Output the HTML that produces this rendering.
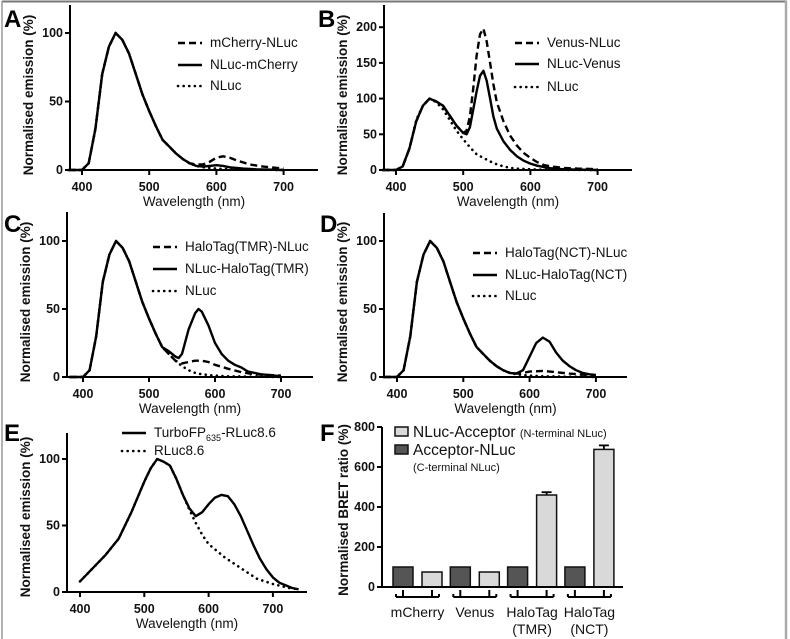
<!DOCTYPE html>
<html><head><meta charset="utf-8">
<style>
html,body{margin:0;padding:0;background:#fff;}
svg{display:block;font-family:"Liberation Sans",sans-serif;}
.tk{font-size:12.5px;font-weight:bold;fill:#111;}
.ttl{font-size:13.5px;fill:#111;}
.yt{font-size:13.5px;font-weight:bold;fill:#111;}
.cat{font-size:14px;fill:#111;}
.lg{font-size:13.5px;fill:#111;}
.pl{font-size:24px;font-weight:bold;fill:#000;}
</style></head>
<body>
<svg id="fig" width="790" height="639" viewBox="0 0 790 639">
  <rect x="0" y="0" width="790" height="639" fill="#fff"/>
  <line x1="2" y1="1.5" x2="787" y2="1.5" stroke="#777" stroke-width="2"/>
  <line x1="2" y1="1" x2="2" y2="639" stroke="#999" stroke-width="1.5"/>
  <line x1="786" y1="1" x2="786" y2="639" stroke="#aaa" stroke-width="2.5"/>
  <g id="plots"></g>
</svg>
<script>
// ---------- data ----------
const nlucWl   = [380,400,410,420,430,440,450,460,470,480,490,500,510,520,530,540,550,560,570,580,590,600,620,650,700];
const nlucVal  = [0,0,5,30,70,90,100,95,85,70,55,43,32,22,17,12,8,5,3,2,1.5,1,0.5,0.3,0];

const aDashWl  = [380,400,410,420,430,440,450,460,470,480,490,500,510,520,530,540,550,560,570,580,590,600,610,620,630,650,670,690,700];
const aDashVal = [0,0,5,30,70,90,100,95,85,70,55,43,32,22,17,12,8,5,4,4,6,9,10,9,7,4,2.5,1.5,1];
const aSolWl   = [380,400,410,420,430,440,450,460,470,480,490,500,510,520,530,540,550,560,570,580,590,600,610,620,640,660,700];
const aSolVal  = [0,0,5,30,70,90,100,95,85,70,55,43,32,22,17,12,8,5,3,2.5,3,3.5,3,2,1,0.5,0];

const bSolWl   = [380,400,410,420,430,440,450,460,470,480,490,500,505,510,515,520,525,530,535,540,545,550,560,570,580,590,600,610,620,630,650,700];
const bSolVal  = [0,0,5,30,68,90,100,96,90,76,62,52,50,60,85,110,132,139,125,100,75,58,40,28,19,13,9,6,4,2.5,1,0];
const bDashWl  = [380,400,410,420,430,440,450,460,470,480,490,500,505,510,515,520,525,530,535,540,545,550,560,570,580,590,600,610,620,630,650,670,690,700];
const bDashVal = [0,0,5,30,68,90,100,96,90,76,62,52,55,75,115,160,190,198,180,150,120,95,68,48,34,24,17,11,7,5,3,2,1.5,1];

const cSolWl   = [380,400,410,420,430,440,450,460,470,480,490,500,510,520,530,540,545,550,560,570,575,580,590,600,610,620,630,640,650,670,690,700];
const cSolVal  = [0,0,5,30,70,90,100,95,85,70,55,43,32,22,19,15,14,17,35,47,50,48,38,25,17,12,9,7,4,2,1,0.5];
const cDashWl  = [380,400,410,420,430,440,450,460,470,480,490,500,510,520,530,540,550,560,570,580,590,600,620,640,660,700];
const cDashVal = [0,0,5,30,70,90,100,95,85,70,55,43,32,22,17,12,10,11,12,12,11,9,6,3.5,2,1];

const dSolWl   = [380,400,410,420,430,440,450,460,470,480,490,500,510,520,530,540,550,560,570,580,590,600,610,620,630,640,650,660,670,680,690,700];
const dSolVal  = [0,0,5,30,70,90,100,95,85,70,55,43,32,22,17,12,8,5,3,2.5,5,15,25,29,26,18,12,8,5,3,2,1.5];
const dDashWl  = [380,400,410,420,430,440,450,460,470,480,490,500,510,520,530,540,550,560,570,580,590,600,620,640,660,700];
const dDashVal = [0,0,5,30,70,90,100,95,85,70,55,43,32,22,17,12,8,5,3,2.5,3,4,4.5,3.5,2.5,1];

const eSolWl   = [400,420,440,460,480,500,510,520,530,540,550,560,570,580,590,600,610,620,630,640,650,660,670,680,690,700,710,720,730,740];
const eSolVal  = [8,18,28,40,60,83,93,100,98,95,85,73,63,57,60,66,71,73,72,66,57,46,35,25,17,11,7,5,3,2];
const eDotWl   = [400,420,440,460,480,500,510,520,530,540,550,560,570,580,590,600,625,650,675,700,725,740];
const eDotVal  = [8,18,28,40,60,83,93,100,98,95,85,73,62,52,43,36,26,18,10,6,3,2];

const barCats    = ["mCherry","Venus","HaloTag\n(TMR)","HaloTag\n(NCT)"];
const barCDark   = [100,100,100,100];
const barNLight  = [75,75,460,688];
const barNErr    = [0,0,14,20];
const barCErr    = [0,0,0,0];
const fTicks     = [0,200,400,600,800];
const specYTicks = [0,50,100];
const bYTicks    = [0,50,100,150,200];
const xTicks     = [400,500,600,700];

// ---------- helpers ----------
const NS = "http://www.w3.org/2000/svg";
const root = document.getElementById('plots');
function mk(tag, attrs, parent){
  const e = document.createElementNS(NS, tag);
  for (const k in attrs) e.setAttribute(k, attrs[k]);
  (parent||root).appendChild(e);
  return e;
}
function axes(p){
  const g = mk('g', {});
  
  
  const sx = v => p.x0 + (v - 400) * p.kx;
  const sy = v => p.y0 - v * p.ky;
  const ya = mk('line', {x1:p.ax, y1:p.top, x2:p.ax, y2:p.y0, stroke:'#000','stroke-width':2}, g);
  
  
  const xa = mk('line', {x1:p.ax, y1:p.y0, x2:p.xend, y2:p.y0, stroke:'#000','stroke-width':2}, g);
  
  
  p.yt.forEach(t => {
    mk('line', {x1:p.ax-5, y1:sy(t), x2:p.ax, y2:sy(t), stroke:'#000','stroke-width':2}, g);
    const tx = mk('text', {x:p.ax-7, y:sy(t)+4, 'text-anchor':'end', class:'tk'}, g);
    tx.textContent = t;
    
    
  });
  xTicks.forEach(t => {
    mk('line', {x1:sx(t), y1:p.y0, x2:sx(t), y2:p.y0+5, stroke:'#000','stroke-width':2}, g);
    const tx = mk('text', {x:sx(t), y:p.y0+21, 'text-anchor':'middle', class:'tk'}, g);
    tx.textContent = t;
    
    
  });
  const xt = mk('text', {x:(p.ax+p.xend)/2, y:p.y0+36, 'text-anchor':'middle', class:'ttl'}, g);
  xt.textContent = 'Wavelength (nm)';
  
  
  const yc = p.y0 - 75;
  const yx = p.ax - 37;
  const yt = mk('text', {x:yx, y:yc, 'text-anchor':'middle', class:'yt', transform:`rotate(-90 ${yx} ${yc})`}, g);
  yt.textContent = 'Normalised emission (%)';
  
  
  const L = mk('text', {x:p.lx, y:p.ly, class:'pl'}, g);
  L.textContent = p.letter;
  
  
  return {g, sx, sy};
}
const styles = {
  solid:{'stroke-width':2.4},
  dash:{'stroke-width':2.4,'stroke-dasharray':'7,4'},
  dot:{'stroke-width':2.6,'stroke-dasharray':'0.1,5.5','stroke-linecap':'round'}
};
function series(ax, wl, val, st, nm){
  let d = '';
  wl.forEach((w,i) => { d += (i ? 'L' : 'M') + ax.sx(w).toFixed(1) + ',' + ax.sy(val[i]).toFixed(1); });
  const a = Object.assign({d, fill:'none', stroke:'#000', 'stroke-linejoin':'round'}, styles[st]);
  const e = mk('path', a, ax.g);
  
  
}
function legend(ax, x, ys, items){
  items.forEach((it,i) => {
    const a = Object.assign({x1:x, y1:ys[i]-4, x2:x+24, y2:ys[i]-4, stroke:'#000'}, styles[it[1]]);
    const ln = mk('line', a, ax.g);
    
    
    const t = mk('text', {x:x+32, y:ys[i], class:'lg'}, ax.g);
    t.innerHTML = it[0];
    
    
  });
}

// ---------- panel A ----------
const A = axes({name:'a', letter:'A', ax:70, top:5, y0:170, x0:82, kx:0.672, ky:1.37, xend:318, yt:specYTicks, lx:4, ly:27});
series(A, nlucWl, nlucVal, 'dot', 'a-nluc-line');
series(A, aDashWl, aDashVal, 'dash', 'a-mcherry-nluc-line');
series(A, aSolWl, aSolVal, 'solid', 'a-nluc-mcherry-line');
legend(A, 178, [47,69,90], [['mCherry-NLuc','dash'],['NLuc-mCherry','solid'],['NLuc','dot']]);

// ---------- panel B ----------
const B = axes({name:'b', letter:'B', ax:384, top:5, y0:170, x0:396, kx:0.672, ky:0.714, xend:632, yt:bYTicks, lx:318, ly:27});
series(B, nlucWl, nlucVal, 'dot', 'b-nluc-line');
series(B, bDashWl, bDashVal, 'dash', 'b-venus-nluc-line');
series(B, bSolWl, bSolVal, 'solid', 'b-nluc-venus-line');
legend(B, 515, [47,68,91], [['Venus-NLuc','dash'],['NLuc-Venus','solid'],['NLuc','dot']]);

// ---------- panel C ----------
const C = axes({name:'c', letter:'C', ax:67, top:212, y0:377, x0:83, kx:0.66, ky:1.36, xend:313, yt:specYTicks, lx:4, ly:232});
series(C, nlucWl, nlucVal, 'dot', 'c-nluc-line');
series(C, cDashWl, cDashVal, 'dash', 'c-halotag-tmr-nluc-line');
series(C, cSolWl, cSolVal, 'solid', 'c-nluc-halotag-tmr-line');
legend(C, 153, [251,273,295], [['HaloTag(TMR)-NLuc','dash'],['NLuc-HaloTag(TMR)','solid'],['NLuc','dot']]);

// ---------- panel D ----------
const D = axes({name:'d', letter:'D', ax:384, top:213, y0:377, x0:397, kx:0.663, ky:1.36, xend:627, yt:specYTicks, lx:320, ly:232});
series(D, nlucWl, nlucVal, 'dot', 'd-nluc-line');
series(D, dDashWl, dDashVal, 'dash', 'd-halotag-nct-nluc-line');
series(D, dSolWl, dSolVal, 'solid', 'd-nluc-halotag-nct-line');
legend(D, 473, [257,279,300], [['HaloTag(NCT)-NLuc','dash'],['NLuc-HaloTag(NCT)','solid'],['NLuc','dot']]);

// ---------- panel E ----------
const E = axes({name:'e', letter:'E', ax:67, top:433, y0:592, x0:80, kx:0.643, ky:1.33, xend:307, yt:specYTicks, lx:4, ly:441});
series(E, eDotWl, eDotVal, 'dot', 'e-rluc86-line');
series(E, eSolWl, eSolVal, 'solid', 'e-turbofp635-rluc86-line');
legend(E, 122, [437,455], [['TurboFP<tspan font-size="9" dy="4">635</tspan><tspan dy="-4">-RLuc8.6</tspan>','solid'],['RLuc8.6','dot']]);

// ---------- panel F (bar chart) ----------
(function(){
  const g = mk('g', {});
  
  
  const ax = 382, y0 = 587, ky = 0.2, xend = 623;
  const sy = v => y0 - v * ky;
  const pitch = 57.3, first = 393, bw = 20, gap = 29;
  const bx = (i, k) => first + i * pitch + k * gap;
  barCats.forEach((c,i) => {
    const vals = [[barCDark[i], barCErr[i], '#555', 'bar-c-terminal-' + i], [barNLight[i], barNErr[i], '#d9d9d9', 'bar-n-terminal-' + i]];
    vals.forEach((v,k) => {
      const x = bx(i,k);
      if (v[1] > 0) {
        mk('line', {x1:x+bw/2, y1:sy(v[0]+v[1]), x2:x+bw/2, y2:sy(v[0]), stroke:'#000','stroke-width':1.8}, g);
        mk('line', {x1:x+bw/2-5, y1:sy(v[0]+v[1]), x2:x+bw/2+5, y2:sy(v[0]+v[1]), stroke:'#000','stroke-width':1.8}, g);
      }
      const r = mk('rect', {x:x, y:sy(v[0]), width:bw, height:v[0]*ky, fill:v[2], stroke:'#111','stroke-width':1.5}, g);
      
      
    });
    const c1 = bx(i,0)+bw/2, c2 = bx(i,1)+bw/2, by = 597;
    const br = mk('path', {d:`M${c1-7},${by} L${c2+7},${by} M${c1},590 L${c1},${by} M${c2},590 L${c2},${by} M${c1-7},${by} L${c1-7},${by-3} M${c2+7},${by} L${c2+7},${by-3}`, fill:'none', stroke:'#000','stroke-width':2}, g);
    
    
    const lines = c.split('\n');
    lines.forEach((ln,j) => {
      const t = mk('text', {x:(c1+c2)/2, y:617 + j*17, 'text-anchor':'middle', class:'cat'}, g);
      t.textContent = ln;
      
      
    });
  });
  const ya = mk('line', {x1:ax, y1:sy(800), x2:ax, y2:y0, stroke:'#000','stroke-width':2}, g);
  
  
  const xa = mk('line', {x1:ax, y1:y0, x2:xend, y2:y0, stroke:'#000','stroke-width':2}, g);
  
  
  fTicks.forEach(t => {
    mk('line', {x1:ax-5, y1:sy(t), x2:ax, y2:sy(t), stroke:'#000','stroke-width':2}, g);
    const tx = mk('text', {x:ax-7, y:sy(t)+4, 'text-anchor':'end', class:'tk'}, g);
    tx.textContent = t;
    
    
  });
  const yc = 510;
  const yt = mk('text', {x:348, y:yc, 'text-anchor':'middle', class:'yt', transform:`rotate(-90 348 ${yc})`}, g);
  yt.textContent = 'Normalised BRET ratio (%)';
  
  
  const L = mk('text', {x:320, y:441, class:'pl'}, g);
  L.textContent = 'F';
  
  
  // legend
  const s1 = mk('rect', {x:395, y:427, width:13, height:9, fill:'#d9d9d9', stroke:'#111','stroke-width':1.5}, g);
  
  
  const t1 = mk('text', {x:413, y:437, 'font-size':'15.5', fill:'#111'}, g);
  t1.innerHTML = 'NLuc-Acceptor <tspan font-size="11">(N-terminal NLuc)</tspan>';
  
  
  const s2 = mk('rect', {x:395, y:445, width:13, height:9, fill:'#555', stroke:'#111','stroke-width':1.5}, g);
  
  
  const t2 = mk('text', {x:413, y:455, 'font-size':'15.5', fill:'#111'}, g);
  t2.textContent = 'Acceptor-NLuc';
  
  
  const t3 = mk('text', {x:413, y:471, 'font-size':'11', fill:'#111'}, g);
  t3.textContent = '(C-terminal NLuc)';
  
  
})();
</script>
</body></html>
